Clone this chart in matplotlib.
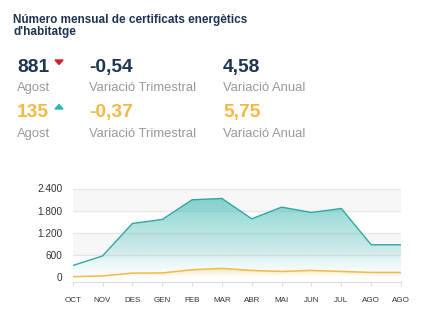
import numpy as np
import matplotlib
matplotlib.use("Agg")
import matplotlib.pyplot as plt
from matplotlib.patches import Polygon

plt.rcParams['font.family'] = ['Liberation Sans', 'DejaVu Sans']

# data
months = ['OCT', 'NOV', 'DES', 'GEN', 'FEB', 'MAR', 'ABR', 'MAI', 'JUN', 'JUL', 'AGO', 'AGO']
total = [320, 580, 1456, 1564, 2095, 2131, 1582, 1897, 1753, 1861, 881, 881]
other = [20, 40, 117, 120, 207, 243, 189, 162, 189, 162, 135, 135]
yticks = [0, 600, 1200, 1800, 2400]
ytick_labels = ['0', '600', '1.200', '1.800', '2.400']

title_lines = ["Número mensual de certificats energètics", "d'habitatge"]
kpi_rows = [
    ('881', 'Agost', '-0,54', 'Variació Trimestral', '4,58', 'Variació Anual'),
    ('135', 'Agost', '-0,37', 'Variació Trimestral', '5,75', 'Variació Anual'),
]

NAVY = '#1d3452'
ORANGE = '#f4b942'
TEAL = '#32a6a4'
GREY = '#999999'

W, H = 437, 323
fig = plt.figure(figsize=(W / 100, H / 100), dpi=100, facecolor='white')


# pixel coords (top-left origin) -> figure fraction
def px(x, y):
    return x / W, 1 - y / H


# ---- header text
fig.text(*px(13, 22.7), title_lines[0], fontsize=8.5, fontweight='bold', color=NAVY, va='baseline')
fig.text(*px(13, 34.5), title_lines[1], fontsize=8.5, fontweight='bold', color=NAVY, va='baseline')

row_y = [(71.7, 91), (116.7, 137)]
row_col = [NAVY, ORANGE]
for (big_y, small_y), col, row in zip(row_y, row_col, kpi_rows):
    for (x, val, lab) in [(17, row[0], row[1]), (89, row[2], row[3]), (223, row[4], row[5])]:
        fig.text(*px(x, big_y), val, fontsize=13.8, fontweight='bold', color=col, va='baseline')
        fig.text(*px(x, small_y), lab, fontsize=9.4, color=GREY, va='baseline')

# small trend arrows
fig.patches.append(Polygon([px(55, 60), px(63, 60), px(59, 64.5)], closed=True,
                           transform=fig.transFigure, color='#d0202a'))
fig.patches.append(Polygon([px(55, 109), px(63, 109), px(59, 104.5)], closed=True,
                           transform=fig.transFigure, color='#2fb5b0'))

# ---- area chart
ax = fig.add_axes([72.7 / W, 1 - 281.5 / H, (401 - 72.7) / W, (281.5 - 188.5) / H])
x = np.arange(len(months))
ymin, ymax = -110, 2400
ax.set_xlim(0, len(months) - 1)
ax.set_ylim(ymin, ymax)

# alternating bands + grid
ax.axhspan(1800, 2400, color='#f7f7f7', zorder=0, lw=0)
ax.axhspan(600, 1200, color='#f7f7f7', zorder=0, lw=0)
for t in yticks[1:]:
    ax.axhline(t, color='#e6e6e6', lw=1, zorder=0.5)


def gradient_fill(xs, ys, rgb, a_top, top_val, zorder):
    poly = Polygon(list(zip(xs, ys)) + [(xs[-1], 0), (xs[0], 0)], closed=True,
                   facecolor='none', edgecolor='none')
    ax.add_patch(poly)
    n = 256
    img = np.zeros((n, 1, 4))
    img[:, :, :3] = matplotlib.colors.to_rgb(rgb)
    img[:, 0, 3] = np.clip(np.linspace(a_top, 0, n), 0, 1)
    im = ax.imshow(img, aspect='auto', extent=[xs[0], xs[-1], 0, top_val],
                   origin='upper', zorder=zorder)
    im.set_clip_path(poly)


gradient_fill(x, total, '#5cc4c0', 0.85, 2400, 1)
gradient_fill(x, other, '#f9c96a', 0.45, 260, 2)
ax.plot(x, total, color=TEAL, lw=1.0, zorder=3)
ax.plot(x, other, color=ORANGE, lw=1.1, zorder=3)

ax.set_xticks(x)
ax.set_xticklabels(months, fontsize=5.8, color='#333333')
ax.set_yticks(yticks)
ax.set_yticklabels(ytick_labels, fontsize=7.2, color='#333333')
ax.tick_params(axis='x', length=3, width=0.8, color='#dddddd', pad=8.5)
ax.tick_params(axis='y', length=0, pad=7.5)
for s in ['top', 'right', 'left']:
    ax.spines[s].set_visible(False)
ax.spines['bottom'].set_color('#dddddd')
ax.set_facecolor('white')

fig.savefig('out.png', dpi=100, facecolor='white')
